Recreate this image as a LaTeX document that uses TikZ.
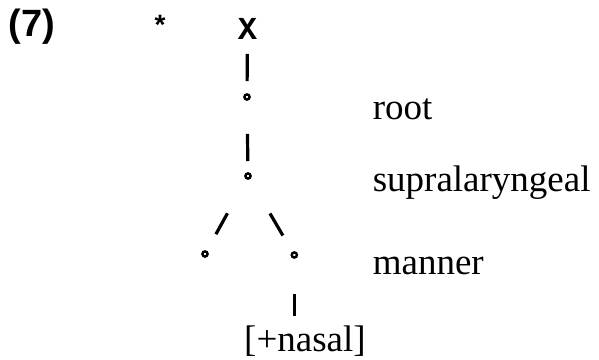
\documentclass[tikz,border=0pt]{standalone}
\usepackage{fontspec}
\setmainfont{Liberation Serif}
\newfontfamily\exfont{Liberation Sans}
\newfontfamily\slotfont{Liberation Mono}
\usepackage{tikz}
\usetikzlibrary{positioning,calc}

\tikzset{
  featdot/.style={circle, draw=black, line width=0.6pt, inner sep=0pt, minimum size=1.3pt},
  tierlabel/.style={anchor=base west, inner sep=0pt, font=\fontsize{9.25}{11}\selectfont},
  assoc/.style={line width=0.8pt},
}

\begin{document}
\begin{tikzpicture}[x=0.25pt, y=-0.25pt]
		\useasboundingbox (0,0) rectangle (599,360);
		\node[anchor=base west, inner sep=0pt, font=\exfont\bfseries\fontsize{9.5}{11}\selectfont] (ex) at (8,37) {(7)};
		\node[anchor=north, inner sep=0pt, font=\exfont\bfseries\fontsize{7}{9}\selectfont] (star) at (160,14) {*};
		\node[anchor=base, inner sep=0pt, font=\slotfont\bfseries\fontsize{8}{10}\selectfont] (X) at (247.5,40) {X};
		
		\node[featdot] (root) at (247,97) {};
		\node[featdot] (supra) at (248,176) {};
		\node[featdot] (place) at (205,254) {};
		\node[featdot] (manner) at (294.3,255) {};
		
		\node[tierlabel] (rootl) at (372,120) {root};
		\node[tierlabel] (supral) at (372,192) {supralaryngeal};
		\node[tierlabel] (mannerl) at (372,275) {manner};
		\node[anchor=base, inner sep=0pt, font=\fontsize{9.25}{11}\selectfont] (nasal) at (305,352) {[+nasal]};
		
		\draw[assoc, shorten <=3.25pt, shorten >=3pt] (X) -- (root);
		\draw[assoc, shorten <=8.25pt, shorten >=2.75pt] (root) -- (supra);
		\draw[assoc, shorten <=9.7pt, shorten >=4.7pt] (supra) -- (place);
		\draw[assoc, shorten <=9.9pt, shorten >=4.7pt] (supra) -- (manner);
		\draw[assoc, shorten <=8.75pt, shorten >=2.5pt] (manner) -- (manner |- nasal.north);
	\end{tikzpicture}
\end{document}
